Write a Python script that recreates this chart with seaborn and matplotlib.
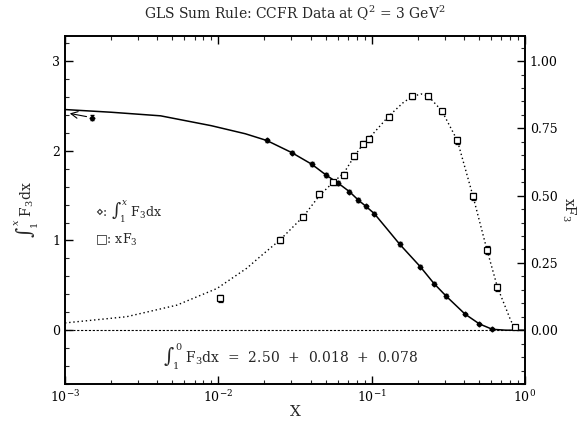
import numpy as np
import pandas as pd
import matplotlib
matplotlib.use('Agg')
import matplotlib.pyplot as plt
import seaborn as sns
from matplotlib.ticker import MultipleLocator, LogLocator, NullFormatter

# integral int_1^x F3 dx, data points (left axis)
int_x = [0.0015, 0.0207, 0.0301, 0.0407, 0.0504, 0.0604, 0.0716, 0.0819,
         0.0919, 0.104, 0.152, 0.207, 0.255, 0.306, 0.406, 0.504, 0.612]
int_y = [2.37, 2.115, 1.98, 1.85, 1.73, 1.64, 1.545, 1.45, 1.38, 1.30,
         0.96, 0.71, 0.52, 0.38, 0.18, 0.07, 0.01]
int_err = [0.03, 0.02, 0.02, 0.02, 0.02, 0.02, 0.02, 0.02, 0.02, 0.02,
           0.02, 0.02, 0.02, 0.02, 0.015, 0.01, 0.01]

# solid curve
fit_x = [0.001, 0.002, 0.0042, 0.009, 0.015, 0.0207, 0.0301, 0.0407, 0.0504,
         0.0604, 0.0716, 0.0819, 0.0919, 0.104, 0.125, 0.152, 0.207, 0.255,
         0.306, 0.406, 0.504, 0.612, 0.75, 1.0]
fit_y = [2.46, 2.43, 2.39, 2.28, 2.19, 2.115, 1.98, 1.85, 1.73, 1.64, 1.545,
         1.45, 1.38, 1.30, 1.136, 0.96, 0.71, 0.52, 0.38, 0.18, 0.07, 0.01,
         0.0, 0.0]

# xF3 data points (right axis)
xf3_x = [0.0102, 0.0252, 0.0358, 0.0456, 0.0562, 0.066, 0.0768, 0.0875,
         0.0967, 0.129, 0.183, 0.234, 0.287, 0.362, 0.457, 0.564, 0.661, 0.861]
xf3_y = [0.118, 0.335, 0.422, 0.506, 0.55, 0.577, 0.648, 0.693, 0.71, 0.794,
         0.869, 0.869, 0.813, 0.705, 0.497, 0.298, 0.159, 0.01]
xf3_err = [0.012, 0.01, 0.01, 0.01, 0.01, 0.01, 0.01, 0.01, 0.01, 0.008,
           0.008, 0.008, 0.008, 0.012, 0.014, 0.016, 0.012, 0.006]

# dotted xF3 curve
xfit_x = [0.001, 0.00252, 0.00536, 0.0098, 0.0153, 0.0187, 0.0252, 0.0358,
          0.0456, 0.0562, 0.066, 0.0768, 0.0875, 0.0967, 0.129, 0.16, 0.183,
          0.21, 0.234, 0.287, 0.362, 0.457, 0.564, 0.661, 0.81, 0.85]
xfit_y = [0.027, 0.05, 0.093, 0.155, 0.23, 0.273, 0.335, 0.422, 0.50, 0.55,
          0.585, 0.645, 0.69, 0.715, 0.795, 0.845, 0.868, 0.878, 0.87, 0.815,
          0.705, 0.50, 0.30, 0.16, 0.034, 0.016]

sns.set_theme(style='ticks')
plt.rcParams['font.family'] = ['DejaVu Serif']
plt.rcParams['mathtext.fontset'] = 'dejavuserif'

fig = plt.figure(figsize=(5.77, 4.25), dpi=100)
ax = fig.add_axes([65/577, 1-384/425, 460/577, 348/425])
ax2 = ax.twinx()

ax.axhline(0, color='black', lw=0.8, ls=(0, (2, 1.5)))
sns.lineplot(x=fit_x, y=fit_y, ax=ax, color='black', lw=1.1,
             sort=False, estimator=None)
ax.errorbar(int_x, int_y, yerr=int_err, fmt='D', ms=2.5, color='black',
            capsize=1.5, elinewidth=0.8)
ax.annotate('', xy=(int_x[0], int_y[0]), xytext=(-16, 3),
            textcoords='offset points',
            arrowprops=dict(arrowstyle='<-', color='black', lw=0.8,
                            shrinkA=0, shrinkB=4))

sns.lineplot(x=xfit_x, y=xfit_y, ax=ax2, color='black', lw=1.0,
             ls=(0, (1, 2)), sort=False, estimator=None)
ax2.errorbar(xf3_x, xf3_y, yerr=xf3_err, fmt='s', ms=4, mfc='white',
             mec='black', color='black', capsize=1.8, elinewidth=0.8, mew=0.9)

ax.set_xscale('log')
ax.set_xlim(1e-3, 1)
ax.set_ylim(-0.6, 3.28)
ax2.set_ylim(-0.2, 3.28/3)

ax.yaxis.set_major_locator(MultipleLocator(1))
ax.yaxis.set_minor_locator(MultipleLocator(0.2))
ax2.yaxis.set_major_locator(MultipleLocator(0.25))
ax2.yaxis.set_minor_locator(MultipleLocator(0.05))
ax2.yaxis.set_major_formatter(matplotlib.ticker.FormatStrFormatter('%.2f'))
ax.xaxis.set_minor_locator(LogLocator(base=10, subs=np.arange(2, 10)))
ax.xaxis.set_minor_formatter(NullFormatter())

for a in (ax, ax2):
    a.tick_params(which='major', direction='in', length=6, width=1,
                  labelsize=9, colors='black')
    a.tick_params(which='minor', direction='in', length=3, width=0.8)
    for s in a.spines.values():
        s.set_linewidth(1.2)
        s.set_color('black')
ax.tick_params(axis='x', which='both', top=True)
ax.tick_params(axis='x', which='major', pad=4)

ax.set_xlabel('X', fontsize=11, labelpad=0)
ax.set_ylabel(r'$\int_1^x$ F$_3$dx', fontsize=10, labelpad=8)
ax2.set_ylabel(r'xF$_3$', fontsize=10, rotation=270, labelpad=14)
ax.set_title(r'GLS Sum Rule: CCFR Data at Q$^2$ = 3 GeV$^2$', fontsize=10,
             pad=12)

ax.text(0.065, 0.494, r'$\diamond$: $\int_1^x$ F$_3$dx', transform=ax.transAxes,
        fontsize=9, va='center')
ax.text(0.065, 0.414, '\u25a1: xF$_3$', transform=ax.transAxes,
        fontsize=9, va='center')
ax.text(0.49, 0.078, r'$\int_1^0$ F$_3$dx  =  2.50  +  0.018  +  0.078',
        transform=ax.transAxes, fontsize=10, ha='center', va='center')

fig.savefig('out.png', dpi=100)
